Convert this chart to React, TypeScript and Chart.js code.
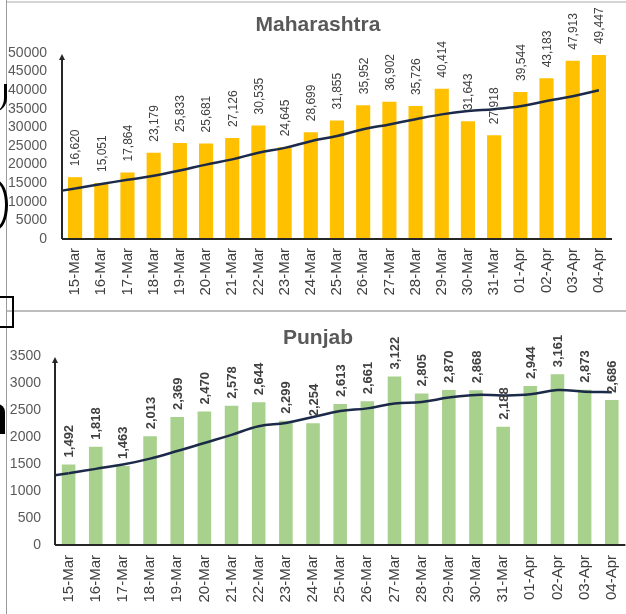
import React, { useEffect, useRef } from 'react';
import { Chart, registerables } from 'chart.js';

Chart.register(...registerables);

const FONT = "'Liberation Sans', Arial, sans-serif";

const dates = [
  '15-Mar', '16-Mar', '17-Mar', '18-Mar', '19-Mar', '20-Mar', '21-Mar',
  '22-Mar', '23-Mar', '24-Mar', '25-Mar', '26-Mar', '27-Mar', '28-Mar',
  '29-Mar', '30-Mar', '31-Mar', '01-Apr', '02-Apr', '03-Apr', '04-Apr',
];

const maharashtraCases = [
  16620, 15051, 17864, 23179, 25833, 25681, 27126, 30535, 24645, 28699, 31855,
  35952, 36902, 35726, 40414, 31643, 27918, 39544, 43183, 47913, 49447,
];
const maharashtraTrend = [
  13600, 14800, 15900, 17000, 18400, 20000, 21400, 23200, 24500, 26300, 27700,
  29500, 30800, 32200, 33500, 34400, 34900, 35700, 37100, 38400, 40000,
];

const punjabCases = [
  1492, 1818, 1463, 2013, 2369, 2470, 2578, 2644, 2299, 2254, 2613,
  2661, 3122, 2805, 2870, 2868, 2188, 2944, 3161, 2873, 2686,
];
const punjabTrend = [
  1330, 1410, 1490, 1600, 1740, 1890, 2040, 2200, 2260, 2370, 2480,
  2530, 2620, 2650, 2730, 2780, 2770, 2790, 2870, 2840, 2830,
];

type PanelProps = {
  values: number[];
  trend: number[];
  barColor: string;
  yMax: number;
  yStep: number;
  labelFont: string;
  labelGap: number;
  width: number;
  height: number;
  padTop: number;
  padRight: number;
  padBottom: number;
  yWidth: number;
  xHeight: number;
  xTickPad: number;
  yTickPad: number;
  barPct: number;
};

function Panel(p: PanelProps) {
  const ref = useRef<HTMLCanvasElement | null>(null);

  useEffect(() => {
    if (!ref.current) return;

    const valueLabels = {
      id: 'valueLabels',
      afterDatasetsDraw(chart: any) {
        const ctx = chart.ctx;
        const meta = chart.getDatasetMeta(0);
        ctx.save();
        ctx.font = p.labelFont;
        ctx.fillStyle = '#404040';
        ctx.textAlign = 'left';
        ctx.textBaseline = 'middle';
        meta.data.forEach((bar: any, i: number) => {
          const text = p.values[i].toLocaleString('en-US');
          const w = ctx.measureText(text).width;
          let y = bar.y - p.labelGap;
          if (y - w < 2) y = 2 + w;
          ctx.save();
          ctx.translate(bar.x + 1, y);
          ctx.rotate(-Math.PI / 2);
          ctx.fillText(text, 0, 0);
          ctx.restore();
        });
        ctx.restore();
      },
    };

    const axes = {
      id: 'axesDraw',
      afterDatasetsDraw(chart: any) {
        const ctx = chart.ctx;
        const a = chart.chartArea;
        const pts = chart.getDatasetMeta(1).data;
        ctx.save();
        // extend the trend line back to the y axis
        if (pts.length > 1) {
          const p0 = pts[0];
          const p1 = pts[1];
          const slope = (p1.y - p0.y) / (p1.x - p0.x);
          const yl = p0.y - slope * (p0.x - a.left);
          ctx.strokeStyle = '#1c2a4a';
          ctx.lineWidth = 2.5;
          ctx.beginPath();
          ctx.moveTo(a.left, yl);
          ctx.lineTo(p0.x, p0.y);
          ctx.stroke();
        }
        ctx.strokeStyle = '#262626';
        ctx.fillStyle = '#262626';
        ctx.lineWidth = 2;
        ctx.beginPath();
        ctx.moveTo(a.left, a.bottom);
        ctx.lineTo(a.right, a.bottom);
        ctx.stroke();
        ctx.beginPath();
        ctx.moveTo(a.left, a.bottom);
        ctx.lineTo(a.left, a.top + 5);
        ctx.stroke();
        ctx.beginPath();
        ctx.moveTo(a.left, a.top + 1);
        ctx.lineTo(a.left - 3, a.top + 7);
        ctx.lineTo(a.left + 3, a.top + 7);
        ctx.closePath();
        ctx.fill();
        ctx.restore();
      },
    };

    const chart = new Chart(ref.current, {
      type: 'bar',
      data: {
        labels: dates,
        datasets: [
          {
            type: 'bar',
            data: p.values,
            backgroundColor: p.barColor,
            barPercentage: p.barPct,
            categoryPercentage: 1,
            order: 2,
          },
          {
            type: 'line',
            data: p.trend,
            borderColor: '#1c2a4a',
            borderWidth: 2.5,
            pointRadius: 0,
            tension: 0.4,
            fill: false,
            order: 1,
          },
        ] as any,
      },
      options: {
        animation: false,
        responsive: false,
        devicePixelRatio: 1,
        layout: {
          padding: { left: 0, right: p.padRight, top: p.padTop, bottom: p.padBottom },
        },
        plugins: {
          legend: { display: false },
          tooltip: { enabled: false },
          title: { display: false },
        },
        scales: {
          x: {
            grid: { display: false, drawTicks: false },
            border: { display: false },
            ticks: {
              minRotation: 90,
              maxRotation: 90,
              autoSkip: false,
              padding: p.xTickPad,
              color: '#404040',
              font: { family: FONT, size: 15 },
            },
            afterFit: (scale: any) => {
              scale.height = p.xHeight;
            },
          },
          y: {
            min: 0,
            max: p.yMax,
            grid: { display: false, drawTicks: false },
            border: { display: false },
            ticks: {
              stepSize: p.yStep,
              autoSkip: false,
              padding: p.yTickPad,
              color: '#595959',
              font: { family: FONT, size: 14 },
              callback: (v: any) => String(v),
            },
            afterFit: (scale: any) => {
              scale.width = p.yWidth;
            },
          },
        },
      } as any,
      plugins: [valueLabels, axes],
    });
    return () => chart.destroy();
  }, []);

  return <canvas ref={ref} width={p.width} height={p.height} style={{ display: 'block' }} />;
}

const titleStyle: React.CSSProperties = {
  position: 'absolute',
  left: 0,
  width: 636,
  textAlign: 'center',
  fontFamily: FONT,
  fontWeight: 'bold',
  fontSize: 21,
  lineHeight: '24px',
  color: '#595959',
};

export default function App() {
  return (
    <div
      style={{
        position: 'absolute',
        left: 0,
        top: 0,
        width: 626,
        height: 614,
        overflow: 'hidden',
        background: '#ffffff',
      }}
    >
      <div style={{ position: 'absolute', left: 0, top: 0, width: 626, height: 310, overflow: 'hidden' }}>
        <Panel
          values={maharashtraCases}
          trend={maharashtraTrend}
          barColor="#FFC000"
          yMax={50000}
          yStep={5000}
          labelFont={`12px ${FONT}`}
          labelGap={11}
          width={626}
          height={310}
          padTop={53}
          padRight={4}
          padBottom={2}
          yWidth={62}
          xHeight={69}
          xTickPad={9}
          yTickPad={15}
          barPct={0.54}
        />
      </div>
      <div style={{ position: 'absolute', left: 0, top: 310, width: 626, height: 304, overflow: 'hidden' }}>
        <Panel
          values={punjabCases}
          trend={punjabTrend}
          barColor="#A9D18E"
          yMax={3500}
          yStep={500}
          labelFont={`bold 13px ${FONT}`}
          labelGap={7}
          width={640}
          height={304}
          padTop={46}
          padRight={9}
          padBottom={0}
          yWidth={55}
          xHeight={69}
          xTickPad={10}
          yTickPad={14}
          barPct={0.5}
        />
      </div>
      <div style={{ ...titleStyle, top: 12 }}>Maharashtra</div>
      <div style={{ ...titleStyle, top: 325 }}>Punjab</div>
      {/* frame lines */}
      <div style={{ position: 'absolute', left: 0, top: 1, width: 626, height: 2, background: '#d4d4d4' }} />
      <div style={{ position: 'absolute', left: 0, top: 310, width: 626, height: 2, background: '#bdbdbd' }} />
      <div style={{ position: 'absolute', left: 0, top: 0, width: 6, height: 614, background: '#ffffff' }} />
      <div style={{ position: 'absolute', left: 6, top: 0, width: 1, height: 614, background: '#9a9a9a' }} />
      {/* stray marks at the left edge */}
      <div style={{ position: 'absolute', left: -14, top: 84, width: 18, height: 28, borderRight: '3px solid #000', borderRadius: '0 0 14px 0' }} />
      <div style={{ position: 'absolute', left: -16, top: 180, width: 18, height: 44, border: '3px solid #000', borderRadius: '50%' }} />
      <div style={{ position: 'absolute', left: -4, top: 296, width: 14, height: 28, border: '2px solid #000' }} />
      <div style={{ position: 'absolute', left: -8, top: 404, width: 13, height: 30, background: '#000', borderRadius: '0 8px 0 0' }} />
    </div>
  );
}
